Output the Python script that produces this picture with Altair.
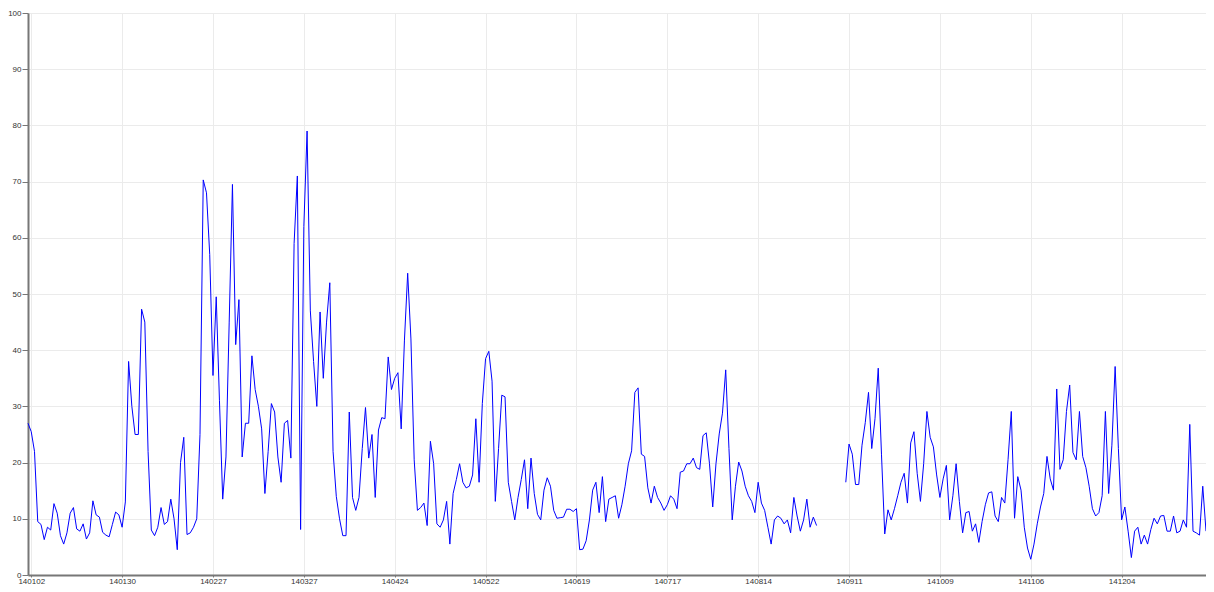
import altair as alt
import pandas as pd

start_date = "2014-01-01"
values = [
    27, 25.5, 22, 9.5, 9, 6.3, 8.5, 8, 12.7, 11, 7, 5.5, 7.5, 11, 12, 8.2, 7.8, 9.1, 6.4, 7.5,
    13.2, 10.7, 10.3, 7.6, 7.1, 6.8, 9, 11.2, 10.7, 8.5, 13, 38, 30, 25, 25, 47.3, 45, 22, 8, 7,
    8.5, 12, 9, 9.5, 13.5, 10, 4.5, 20, 24.5, 7.2, 7.5, 8.5, 10, 25, 70.3, 68, 57, 35.5, 49.5, 31,
    13.5, 21, 45, 69.5, 41, 49, 21, 27, 27, 39, 33, 30, 26, 14.5, 22, 30.5, 29, 21, 16.5, 27,
    27.5, 20.8, 59, 71, 8.1, 62, 79, 47, 38, 30, 46.8, 35, 45, 52, 22, 14, 10, 7, 7, 29,
    13.8, 11.5, 13.8, 22.5, 29.8, 20.8, 25, 13.8, 25.8, 28, 27.8, 38.8, 33, 35, 36, 26, 41.8, 53.7, 42, 20.5,
    11.5, 12, 12.8, 8.8, 23.8, 19.8, 9.1, 8.5, 9.8, 13.1, 5.5, 14.5, 17, 19.8, 16.5, 15.5, 15.8, 17.8, 27.8, 16.5,
    30.5, 38.5, 39.8, 34.5, 13.1, 22.5, 32, 31.7, 16.5, 13.1, 9.8, 13.8, 17, 20.5, 11.8, 20.8, 14.5, 10.8, 9.8, 15.1,
    17.3, 15.8, 11.5, 10.1, 10.2, 10.3, 11.7, 11.7, 11.3, 11.8, 4.5, 4.6, 6.1, 9.8, 15.1, 16.5, 11.1, 17.5, 9.5, 13.5,
    13.8, 14.1, 10.1, 12.5, 15.8, 19.8, 22.1, 32.5, 33.3, 21.5, 21.1, 15.5, 12.8, 15.8, 13.8, 12.8, 11.5, 12.5, 14.1, 13.5,
    11.8, 18.3, 18.5, 19.8, 19.8, 20.8, 19.1, 18.8, 24.8, 25.3, 19.8, 12.1, 19.8, 25.1, 28.8, 36.5, 22.5, 9.8, 15.8, 20.1,
    18.5, 15.8, 14.1, 13.1, 11.1, 16.5, 12.8, 11.5, 8.5, 5.5, 9.8, 10.5, 10.1, 9.1, 9.8, 7.5, 13.8, 10.5, 7.8, 9.8,
    13.5, 8.5, 10.3, 8.8, None, None, None, None, None, None, None, None, 16.5, 23.3, 21.5, 16.1, 16.1, 23.1, 27.1, 32.5,
    22.5, 27.8, 36.8, 21.5, 7.3, 11.6, 9.8, 11.8, 14.1, 16.5, 18.1, 12.8, 23.5, 25.5, 18.1, 13.1, 19.8, 29.1, 24.5, 22.8,
    17.8, 13.8, 17.1, 19.5, 9.8, 14.1, 19.8, 13.1, 7.5, 11.1, 11.3, 7.8, 9.1, 5.8, 9.5, 12.5, 14.6, 14.8, 10.5, 9.5,
    13.8, 12.8, 20.5, 29.1, 10.1, 17.5, 15.1, 8.5, 4.8, 2.8, 5.5, 9.1, 12.1, 14.5, 21.1, 17.1, 15.1, 33.1, 18.8, 20.5,
    29.1, 33.8, 21.8, 20.5, 29.1, 21.1, 19.1, 15.8, 11.8, 10.5, 11.1, 14.1, 29.1, 14.5, 23.1, 37.1, 22.5, 9.8, 12.1, 7.8,
    3.1, 7.8, 8.5, 5.5, 7.1, 5.5, 8.1, 10.1, 9.1, 10.5, 10.6, 7.8, 7.8, 10.5, 7.5, 7.8, 9.8, 8.5, 26.8, 7.8,
    7.5, 7.1, 15.8, 7.8,
]
tick_labels = ["140102", "140130", "140227", "140327", "140424", "140522", "140619",
               "140717", "140814", "140911", "141009", "141106", "141204"]
y_ticks = [0, 10, 20, 30, 40, 50, 60, 70, 80, 90, 100]

dates = pd.date_range(start_date, periods=len(values), freq="D")
segments = []
seg = 0
prev_none = False
for v in values:
    if v is None:
        prev_none = True
    elif prev_none:
        seg += 1
        prev_none = False
    segments.append(seg)

df = pd.DataFrame({"date": dates.strftime("%Y-%m-%dT00:00:00"), "value": values, "seg": segments})
df = df[df["value"].notna()]

tick_dates = [alt.DateTime(year=2000 + int(t[:2]), month=int(t[2:4]), date=int(t[4:6])) for t in tick_labels]

font = "Liberation Sans"

chart = alt.Chart(df).mark_line(color="#0000ff", strokeWidth=1, interpolate="linear").encode(
    x=alt.X("date:T",
            scale=alt.Scale(domain=[alt.DateTime(year=2014, month=1, date=1),
                                    alt.DateTime(year=2014, month=12, date=30)], nice=False),
            axis=alt.Axis(values=tick_dates, format="%y%m%d", title=None, labelFontSize=8,
                          labelColor="#333333", labelFont=font, labelPadding=0, labelFlush=False,
                          tickSize=2, tickColor="#777777", domainColor="#777777", domainWidth=2,
                          gridColor="#ebebeb", gridWidth=1, labelOverlap=False)),
    y=alt.Y("value:Q",
            scale=alt.Scale(domain=[0, 100], nice=False),
            axis=alt.Axis(values=y_ticks, title=None, labelFontSize=8, labelColor="#333333",
                          labelFont=font, labelPadding=1, tickSize=6, tickColor="#777777",
                          domainColor="#777777", domainWidth=2, gridColor="#ebebeb", gridWidth=1)),
    detail="seg:N",
).properties(
    width=1178,
    height=562,
    autosize=alt.AutoSizeParams(type="none"),
    padding={"left": 20, "top": 5, "right": 0, "bottom": 9},
).configure_view(stroke=None)

chart.save("out.html", embed_options={"renderer": "svg", "actions": False})
